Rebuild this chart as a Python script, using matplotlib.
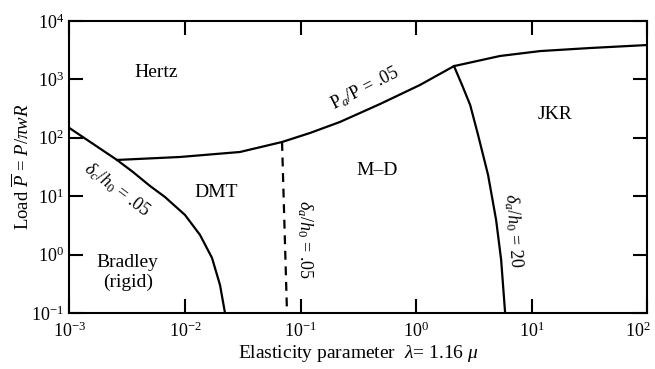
import numpy as np
import matplotlib
matplotlib.use('Agg')
import matplotlib.pyplot as plt
import matplotlib.transforms as mtransforms
from matplotlib.ticker import NullLocator, LogFormatterSciNotation

plt.rcParams['font.family'] = ['Liberation Serif', 'DejaVu Serif']
plt.rcParams['mathtext.fontset'] = 'custom'
plt.rcParams['mathtext.rm'] = 'Liberation Serif'
plt.rcParams['mathtext.it'] = 'Liberation Serif:italic'
plt.rcParams['mathtext.bf'] = 'Liberation Serif:bold'

# Fronteiras do mapa de adesao (lambda, P)
lam_dc = [0.001, 0.00258, 0.00355, 0.00498, 0.00671, 0.0100, 0.01349, 0.01714,
          0.0201, 0.0222]
P_dc = [147, 41.7, 25.9, 14.96, 9.68, 4.77, 2.17, 0.875, 0.301, 0.1]

lam_pa = [0.00258, 0.00906, 0.0299, 0.0692, 0.121, 0.22, 0.488, 1.08, 2.13,
          5.33, 11.9, 32.1, 100]
P_pa = [41.7, 46.9, 57.1, 84.7, 121, 187, 379, 802, 1690, 2520, 3060, 3450, 3880]

lam_da = [0.0692, 0.0764]
P_da = [84.7, 0.1]

lam_jkr = [2.13, 2.50, 2.94, 3.44, 4.20, 4.93, 5.45, 5.90]
P_jkr = [1690, 802, 365, 112, 23.1, 3.91, 0.81, 0.1]

# Ticks dos eixos
ticks_x = [1e-3, 1e-2, 1e-1, 1e0, 1e1, 1e2]
ticks_y = [1e-1, 1e0, 1e1, 1e2, 1e3, 1e4]

# Rotulos das regioes
regioes = ['Hertz', 'DMT', 'M\u2013D', 'JKR', 'Bradley\n(rigid)']
reg_x = [0.0056, 0.0187, 0.46, 16, 0.0032]
reg_y = [1300, 11.4, 28, 246, 0.5]

fig = plt.figure(figsize=(6.55, 3.69), dpi=100)
ax = fig.add_axes([0.106, 0.152, 0.882, 0.791])

lw = 1.6
ax.plot(lam_dc, P_dc, color='black', lw=lw)
ax.plot(lam_pa, P_pa, color='black', lw=lw)
ax.plot(lam_da, P_da, color='black', lw=lw, linestyle=(0, (4, 3)))
ax.plot(lam_jkr, P_jkr, color='black', lw=lw)

ax.set_xscale('log')
ax.set_yscale('log')
ax.set_xlim(1e-3, 1e2)
ax.set_ylim(1e-1, 1e4)

ax.set_xticks(ticks_x)
ax.set_yticks(ticks_y)
ax.xaxis.set_minor_locator(NullLocator())
ax.yaxis.set_minor_locator(NullLocator())
ax.xaxis.set_major_formatter(LogFormatterSciNotation())
ax.yaxis.set_major_formatter(LogFormatterSciNotation())

ax.tick_params(which='major', direction='in', length=10, width=1.5,
               top=True, right=True, labelsize=13, pad=4)
ax.tick_params(axis='x', pad=6)
for s in ax.spines.values():
    s.set_linewidth(1.5)

for txt, x, y in zip(regioes, reg_x, reg_y):
    ax.text(x, y, txt, fontsize=14, ha='center', va='center')

ax.text(0.0026, 13, r'$\delta_c/h_0$ = .05', fontsize=13, rotation=-37,
        ha='center', va='center')
ax.text(0.36, 700, r'P$_a$/P = .05', fontsize=13, rotation=27,
        ha='center', va='center')
ax.text(0.109, 1.78, r'$\delta_a/h_0$ = .05', fontsize=13, rotation=-90,
        ha='center', va='center')
ax.text(6.9, 2.64, r'$\delta_a/h_0$ = 20', fontsize=13, rotation=-86,
        ha='center', va='center')

ax.set_xlabel(r'Elasticity parameter  $\lambda$= 1.16 $\mu$', fontsize=14, labelpad=2)
ax.set_ylabel(r'Load $\overline{P}$ = $P/\pi wR$', fontsize=13.5)
ax.yaxis.set_label_coords(-0.063, 0.5)

# puxar o ultimo rotulo do eixo x um pouco para dentro
fig.canvas.draw()
ultimo = ax.xaxis.get_major_ticks()[-1].label1
ultimo.set_transform(ultimo.get_transform() +
                     mtransforms.ScaledTranslation(-7 / 72, 0, fig.dpi_scale_trans))

fig.savefig('out.png', dpi=100)
